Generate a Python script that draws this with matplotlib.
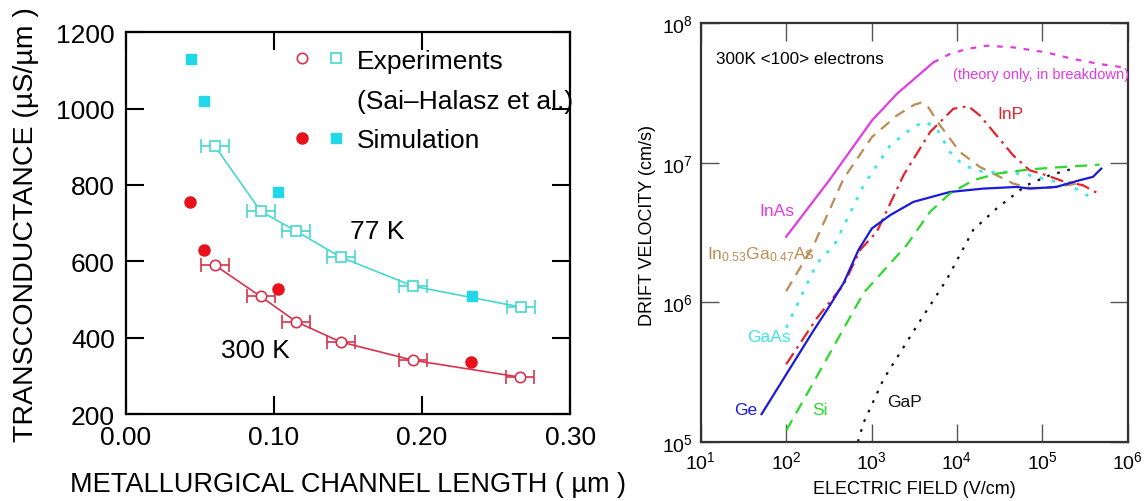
import matplotlib
matplotlib.use("Agg")
import matplotlib.pyplot as plt
from matplotlib.lines import Line2D
from matplotlib.legend_handler import HandlerTuple

plt.rcParams['font.family'] = ['Liberation Sans', 'DejaVu Sans']
plt.rcParams['mathtext.default'] = 'regular'

# ---- left panel: transconductance vs channel length ----
exp300_len = [0.060, 0.091, 0.115, 0.145, 0.194, 0.266]
exp300_gm = [590, 508, 442, 389, 341, 297]
exp77_len = [0.060, 0.091, 0.115, 0.145, 0.194, 0.267]
exp77_gm = [902, 731, 679, 611, 535, 480]
exp_len_err = 0.0095
sim300_len = [0.043, 0.053, 0.103, 0.233]
sim300_gm = [755, 631, 527, 337]
sim77_len = [0.044, 0.053, 0.103, 0.234]
sim77_gm = [1129, 1019, 782, 508]

# ---- right panel: drift velocity vs field (log10 values) ----
inas_E = [2.0, 2.5, 3.004, 3.296, 3.568, 3.724]
inas_v = [6.469, 6.87, 7.302, 7.493, 7.636, 7.719]
inas_bd_E = [3.724, 3.918, 4.113, 4.346, 4.658, 5.047, 5.358, 5.669, 5.942]
inas_bd_v = [7.719, 7.779, 7.814, 7.838, 7.826, 7.790, 7.743, 7.707, 7.683]
ingaas_E = [2.0, 2.323, 2.673, 3.004, 3.296, 3.50, 3.58, 3.65, 3.802, 4.035,
            4.268, 4.463, 4.658, 4.852, 5.047, 5.241, 5.397]
ingaas_v = [6.079, 6.41, 6.886, 7.183, 7.338, 7.415, 7.43, 7.41, 7.267, 7.076,
            6.969, 6.910, 6.850, 6.819, 6.819, 6.833, 6.850]
gaas_E = [2.0, 2.362, 2.564, 2.907, 3.218, 3.490, 3.626, 3.763, 3.918, 4.074,
          4.307, 4.580, 4.852, 5.086, 5.319, 5.591]
gaas_v = [5.817, 6.281, 6.41, 6.838, 7.124, 7.255, 7.295, 7.243, 7.076, 6.981,
          6.933, 6.933, 6.910, 6.874, 6.838, 6.743]
inp_E = [2.0, 2.362, 2.673, 2.868, 3.062, 3.374, 3.685, 3.957, 4.132, 4.268,
         4.463, 4.658, 4.852, 5.047, 5.241, 5.475, 5.689]
inp_v = [5.555, 5.888, 6.126, 6.376, 6.505, 6.910, 7.219, 7.386, 7.405, 7.338,
         7.195, 7.052, 6.945, 6.910, 6.867, 6.838, 6.767]
ge_E = [1.712, 2.304, 2.518, 2.673, 2.848, 3.004, 3.218, 3.490, 3.918, 4.307,
        4.696, 4.852, 5.163, 5.436, 5.591, 5.689]
ge_v = [5.198, 5.781, 5.983, 6.138, 6.376, 6.529, 6.624, 6.719, 6.790, 6.814,
        6.826, 6.814, 6.826, 6.874, 6.898, 6.957]
si_E = [2.0, 2.362, 2.907, 3.412, 3.685, 3.918, 4.191, 4.463, 4.852, 5.241, 5.669]
si_v = [5.079, 5.471, 6.067, 6.41, 6.648, 6.779, 6.874, 6.921, 6.952, 6.969, 6.986]
gap_E = [2.840, 2.907, 3.140, 3.529, 3.879, 4.191, 4.463, 4.813, 5.086, 5.358]
gap_v = [5.0, 5.138, 5.448, 5.829, 6.162, 6.519, 6.671, 6.838, 6.910, 6.957]


def p10(vals):
    return [10 ** a for a in vals]


fig = plt.figure(figsize=(11.45, 5.02), dpi=100)

# ---------------- left ----------------
ax1 = fig.add_axes([0.110, 0.173, 0.388, 0.761])
red_exp = '#d8334d'
cyan_exp = '#45d8d0'
red_sim = '#e8101a'
cyan_sim = '#22d8e8'

ax1.errorbar(exp77_len, exp77_gm, xerr=exp_len_err, fmt='-s', color=cyan_exp,
             mfc='white', mec=cyan_exp, ms=6.5, mew=1.2, lw=1.2,
             elinewidth=1.2, capsize=4.7, capthick=1.2)
ax1.errorbar(exp300_len, exp300_gm, xerr=exp_len_err, fmt='-o', color=red_exp,
             mfc='white', mec=red_exp, ms=7.5, mew=1.2, lw=1.2,
             elinewidth=1.2, capsize=4.7, capthick=1.2)
ax1.plot(sim300_len, sim300_gm, 'o', color=red_sim, ms=8, zorder=5)
ax1.plot(sim77_len, sim77_gm, 's', color=cyan_sim, ms=7.5, zorder=5)

ax1.set_xlim(0, 0.30)
ax1.set_ylim(200, 1200)
ax1.set_xticks([0.0, 0.1, 0.2, 0.3])
ax1.set_xticklabels(['0.00', '0.10', '0.20', '0.30'])
ax1.set_yticks([200, 400, 600, 800, 1000, 1200])
ax1.tick_params(direction='in', length=13, width=1.5, labelsize=19,
                top=True, right=True, pad=8)
for s in ax1.spines.values():
    s.set_linewidth(1.6)

ax1.text(0.151, 680, '77 K', fontsize=19, va='center', ha='left')
ax1.text(0.064, 367, '300 K', fontsize=19, va='center', ha='left')

h_exp = (Line2D([], [], ls='none', marker='o', mfc='white', mec=red_exp, ms=7.5, mew=1.2),
         Line2D([], [], ls='none', marker='s', mfc='white', mec=cyan_exp, ms=6.5, mew=1.2))
h_blank = Line2D([], [], ls='none')
h_sim = (Line2D([], [], ls='none', marker='o', color=red_sim, ms=8),
         Line2D([], [], ls='none', marker='s', color=cyan_sim, ms=7.5))
ax1.legend([h_exp, h_blank, h_sim],
           ['Experiments', '(Sai\u2013Halasz et al.)', 'Simulation'],
           handler_map={tuple: HandlerTuple(ndivide=None, pad=0)},
           loc='upper left', bbox_to_anchor=(0.315, 1.005), frameon=False,
           fontsize=19, handlelength=2.6, handletextpad=0.15,
           labelspacing=0.6, borderaxespad=0.3)

ax1.set_xlabel('METALLURGICAL CHANNEL LENGTH ( \u00b5m )', fontsize=19.5)
ax1.set_ylabel('TRANSCONDUCTANCE (\u00b5S/\u00b5m )', fontsize=20.5)
ax1.xaxis.set_label_coords(0.5, -0.15)
ax1.yaxis.set_label_coords(-0.195, 0.5)

# ---------------- right ----------------
ax2 = fig.add_axes([0.612, 0.118, 0.373, 0.834])
magenta = '#e23be2'
tan = '#bb8c55'
cyan = '#3ee6e6'
red = '#e3242b'
blue = '#1a1ad8'
green = '#2ed82e'
black = '#111111'
lw = 1.6

ax2.plot(p10(inas_E), p10(inas_v), color=magenta, lw=lw)
ax2.plot(p10(inas_bd_E), p10(inas_bd_v), color=magenta, lw=lw, dashes=(2.5, 3.5))
ax2.plot(p10(ingaas_E), p10(ingaas_v), color=tan, lw=lw, dashes=(5, 3.5))
ax2.plot(p10(gaas_E), p10(gaas_v), color=cyan, lw=lw + 0.4, dashes=(1.2, 3.2))
ax2.plot(p10(inp_E), p10(inp_v), color=red, lw=lw, dashes=(6, 2.5, 1.2, 2.5))
ax2.plot(p10(ge_E), p10(ge_v), color=blue, lw=lw)
ax2.plot(p10(si_E), p10(si_v), color=green, lw=lw, dashes=(5.5, 3.5))
ax2.plot(p10(gap_E), p10(gap_v), color=black, lw=lw, dashes=(1.2, 3.5))

ax2.set_xscale('log')
ax2.set_yscale('log')
ax2.set_xlim(1e1, 1e6)
ax2.set_ylim(1e5, 1e8)
ax2.set_xticks([1e1, 1e2, 1e3, 1e4, 1e5, 1e6])
ax2.set_xticklabels(['$10^{%d}$' % k for k in range(1, 7)])
ax2.set_yticks([1e5, 1e6, 1e7, 1e8])
ax2.set_yticklabels(['$10^{%d}$' % k for k in range(5, 9)])
ax2.minorticks_off()
ax2.tick_params(direction='in', length=13, width=1.0, color='#555555',
                labelsize=14, top=True, right=True, pad=6)
for s in ax2.spines.values():
    s.set_linewidth(1.6)
    s.set_color('#333333')

tfs = 12.5
ax2.text(15, 10 ** 7.743, '300K <100> electrons', fontsize=12.3, va='center')
ax2.text(10 ** 3.95, 10 ** 7.636, '(theory only, in breakdown)', fontsize=10.5,
         color=magenta, va='center')
ax2.text(10 ** 4.47, 10 ** 7.35, 'InP', fontsize=tfs, color=red, va='center')
ax2.text(10 ** 1.69, 10 ** 6.657, 'InAs', fontsize=tfs, color=magenta, va='center')
ax2.text(10 ** 1.07, 10 ** 6.35, 'In$_{0.53}$Ga$_{0.47}$As', fontsize=tfs,
         color=tan, va='center')
ax2.text(10 ** 1.54, 10 ** 5.757, 'GaAs', fontsize=tfs, color=cyan, va='center')
ax2.text(10 ** 1.39, 10 ** 5.23, 'Ge', fontsize=tfs, color=blue, va='center')
ax2.text(10 ** 2.30, 10 ** 5.23, 'Si', fontsize=tfs, color=green, va='center')
ax2.text(10 ** 3.18, 10 ** 5.29, 'GaP', fontsize=tfs, color=black, va='center')

ax2.set_xlabel('ELECTRIC FIELD (V/cm)', fontsize=13)
ax2.set_ylabel('DRIFT VELOCITY (cm/s)', fontsize=13)
ax2.xaxis.set_label_coords(0.5, -0.092)
ax2.yaxis.set_label_coords(-0.105, 0.52)

fig.savefig('out.png', dpi=100)
